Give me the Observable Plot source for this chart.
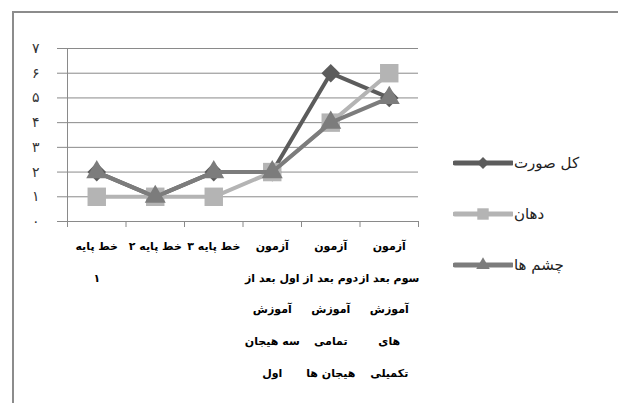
<!DOCTYPE html>
<html>
<head>
<meta charset="utf-8">
<script src="https://cdn.jsdelivr.net/npm/d3@7"></script>
<script src="https://cdn.jsdelivr.net/npm/@observablehq/plot@0.6"></script>
<style>
  html, body { margin: 0; padding: 0; background: #fff; }
  #wrap { position: relative; width: 618px; height: 403px; overflow: hidden; font-family: "DejaVu Sans", sans-serif; }
  #frame { position: absolute; left: 12px; top: 11px; width: 700px; height: 500px; border-left: 2px solid #8c8c8c; border-top: 2px solid #8c8c8c; pointer-events: none; }
  #chart { position: absolute; left: 0; top: 0; }
  .leg { position: absolute; left: 453px; height: 20px; display: flex; align-items: center; }
  .leg span { font-size: 15px; color: #222; margin-left: 1px; direction: rtl; }
</style>
</head>
<body>
<div id="wrap">
  <div id="chart"></div>
  <div id="frame"></div>
</div>
<script>
// Test stages along the x axis (line breaks as printed under the axis)
const categories = [
  "خط پایه\n۱",
  "خط پایه ۲",
  "خط پایه ۳",
  "آزمون\nاول بعد از\nآموزش\nسه هیجان\nاول",
  "آزمون\nدوم بعد از\nآموزش\nتمامی\nهیجان ها",
  "آزمون\nسوم بعد از\nآموزش\nهای\nتکمیلی"
];
// Series names
const seriesNames = ["کل صورت", "دهان", "چشم ها"];
// Scores per stage
const wholeFace = [2, 1, 2, 2, 6, 5];
const mouth = [1, 1, 1, 2, 4, 6];
const eyes = [2, 1, 2, 2, 4, 5];
// Value axis ticks
const yTicks = [0, 1, 2, 3, 4, 5, 6, 7];

const seriesValues = [wholeFace, mouth, eyes];
const seriesColors = ["#5c5c5c", "#b4b4b4", "#7c7c7c"];
const seriesSymbols = ["diamond2", "square", "triangle"];
const seriesR = [8.4, 10.4, 7.8];

const faDigits = "۰۱۲۳۴۵۶۷۸۹";
const toFa = d => String(d).replace(/\d/g, c => faDigits[+c]);

const labelRows = categories.map((label, i) => ({i, label}));
const seriesRows = seriesValues.map((vals, s) =>
  vals.map((v, i) => ({i, v, s}))
);

const marks = [
  Plot.gridY(yTicks, {stroke: "#8a8a8a", strokeOpacity: 1}),
  Plot.axisY(yTicks, {
    tickSize: 10, tickPadding: 18, stroke: "#8a8a8a", fill: "#333",
    tickFormat: toFa, fontSize: 14, label: null
  }),
  Plot.axisX(d3.range(categories.length + 1), {
    tickSize: 6, stroke: "#8a8a8a", tickFormat: () => "", label: null
  }),
  Plot.ruleX([0], {stroke: "#8a8a8a"})
];

seriesRows.forEach((rows, s) => {
  marks.push(
    Plot.line(rows, {x: d => d.i + 0.5, y: "v", stroke: seriesColors[s], strokeWidth: 4}),
    Plot.dot(rows, {x: d => d.i + 0.5, y: "v", symbol: seriesSymbols[s], r: seriesR[s], fill: seriesColors[s], stroke: "none"})
  );
});

marks.push(
  Plot.text(labelRows, {
    x: d => d.i + 0.5, frameAnchor: "bottom", text: "label",
    lineAnchor: "top", dy: 6, lineHeight: 2.88,
    fontWeight: "bold", fontSize: 11, fill: "#000"
  })
);

const chart = Plot.plot({
  width: 618,
  height: 403,
  marginLeft: 67,
  marginRight: 200,
  marginTop: 48,
  marginBottom: 182,
  style: {fontFamily: "DejaVu Sans, sans-serif", background: "transparent"},
  x: {type: "linear", domain: [0, categories.length], axis: null},
  y: {domain: [0, 7], axis: null},
  marks
});
document.getElementById("chart").append(chart);

// Legend on the right
const legendTops = [153, 204, 255];
const wrap = d3.select("#wrap");
seriesNames.forEach((name, s) => {
  const item = wrap.append("div").attr("class", "leg").style("top", legendTops[s] + "px");
  const svg = item.append("svg").attr("width", 60).attr("height", 20);
  svg.append("line").attr("x1", 2).attr("x2", 59).attr("y1", 10).attr("y2", 10)
    .attr("stroke", seriesColors[s]).attr("stroke-width", 5).attr("stroke-linecap", "round");
  const sym = {diamond2: d3.symbolDiamond2, square: d3.symbolSquare, triangle: d3.symbolTriangle}[seriesSymbols[s]];
  const size = [90, 130, 80][s];
  svg.append("path").attr("d", d3.symbol(sym, size)()).attr("transform", "translate(30,10)")
    .attr("fill", seriesColors[s]);
  item.append("span").text(name);
});
</script>
</body>
</html>
